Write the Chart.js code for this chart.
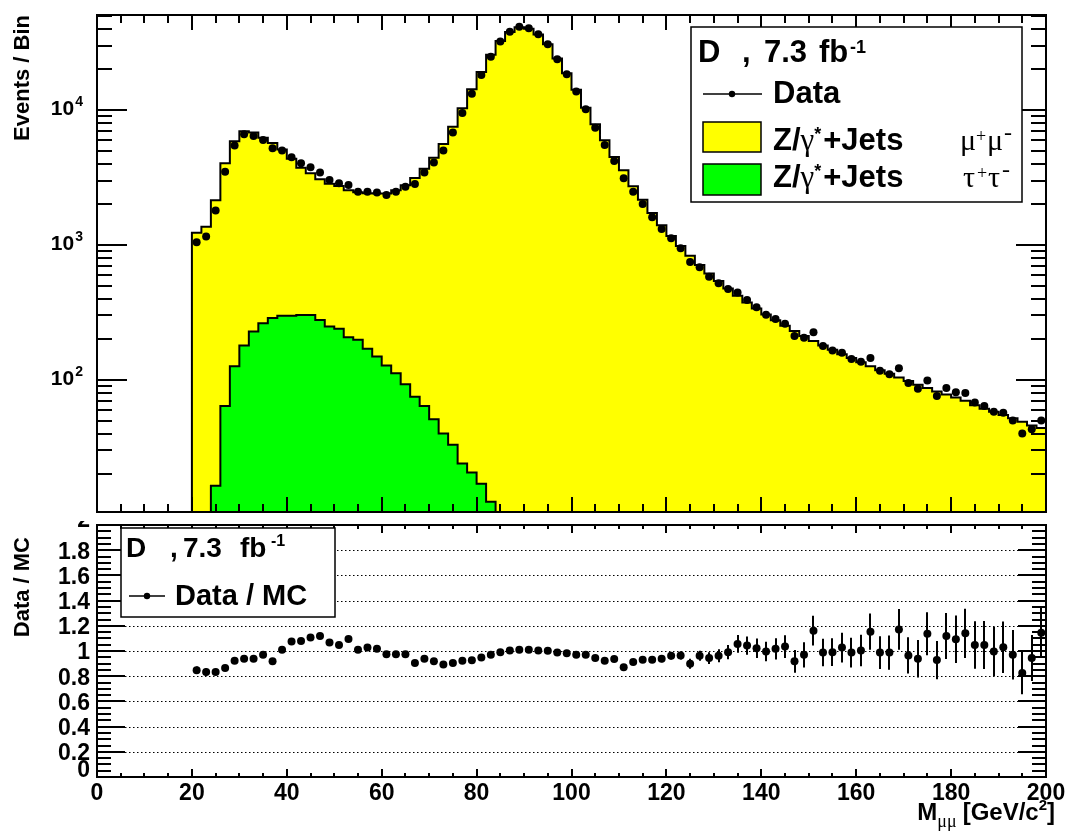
<!DOCTYPE html>
<html><head><meta charset="utf-8">
<script src="https://cdn.jsdelivr.net/npm/chart.js@4/dist/chart.umd.min.js"></script>
<style>
html,body{margin:0;padding:0;background:#fff;}
#wrap{position:relative;width:1070px;height:838px;overflow:hidden;background:#fff;}
canvas{position:absolute;left:0;}
#topPad{top:0;}
#botPad{top:521px;}
</style></head><body>
<div id="wrap"><canvas id="topPad" width="1070" height="517"></canvas><canvas id="botPad" width="1070" height="317"></canvas></div>
<script>
// ---------------- data ----------------
const massBinCenters = [21,23,25,27,29,31,33,35,37,39,41,43,45,47,49,51,53,55,57,59,61,63,65,67,69,71,73,75,77,79,81,83,85,87,89,91,93,95,97,99,101,103,105,107,109,111,113,115,117,119,121,123,125,127,129,131,133,135,137,139,141,143,145,147,149,151,153,155,157,159,161,163,165,167,169,171,173,175,177,179,181,183,185,187,189,191,193,195,197,199];
const binHalfWidth = 1;

const dataEvents = [1047,1153,1795,3490,5440,6610,6410,5990,5200,5000,
 4470,4030,3760,3435,3030,2860,2780,2480,2480,2440,
 2345,2480,2700,2830,3435,4070,5000,6790,9500,13200,
 18150,24800,32100,38000,41400,40300,36400,30700,23700,18400,
 13700,10100,7390,5500,4190,3120,2480,2010,1600,1314,
 1122,946,746,683,581,519,471,444,391,345,
 304,282,261,211,205,225,178,165,159,143,
 136,145,117,110,122,95,86,99,76,87,
 81,80,68,64,58,57,50,40,43,50];

// Z/gamma*+jets mu+mu- stacked on tau+tau- (stack top)
const mcStackTotal = [1230,1365,2140,4030,5850,6950,6800,6230,5700,5100,
 4350,3730,3390,3070,2840,2730,2540,2460,2415,2400,
 2405,2540,2770,3130,3660,4430,5600,7500,10300,14250,
 19100,25600,32400,37850,41000,39950,36250,30700,24000,18700,
 14120,10400,7830,5960,4480,3580,2720,2160,1720,1400,
 1166,980,830,710,615,540,475,420,375,338,
 305,277,252,230,211,194,180,167,155,145,
 135,126,118,111,104,98,92,87,82,78,
 74,70,65,61,58,55,52,49,46,44];

const tauTauMC = [0,0,16.4,64,126,180,228,263,287,299,
 298,303,303,278,249,239,207,198,170,149,
 128,112,93,75,64,51,40,33,24,20.6,
 17,12.5,0,0,0,0,0,0,0,0,
 0,0,0,0,0,0,0,0,0,0,
 0,0,0,0,0,0,0,0,0,0,
 0,0,0,0,0,0,0,0,0,0,
 0,0,0,0,0,0,0,0,0,0,
 0,0,0,0,0,0,0,0,0,0];

const dataOverMC = [0.847,0.834,0.834,0.865,0.923,0.939,0.939,0.970,0.918,1.009,
 1.075,1.080,1.108,1.119,1.067,1.048,1.095,1.009,1.027,1.017,
 0.975,0.975,0.975,0.905,0.939,0.918,0.892,0.905,0.923,0.926,
 0.949,0.970,0.991,1.004,1.009,1.009,1.004,1.001,0.988,0.983,
 0.970,0.970,0.944,0.923,0.936,0.871,0.912,0.931,0.931,0.939,
 0.962,0.965,0.899,0.962,0.944,0.962,0.991,1.056,1.043,1.022,
 0.996,1.017,1.035,0.918,0.970,1.161,0.988,0.991,1.027,0.988,
 1.004,1.153,0.988,0.988,1.171,0.965,0.939,1.137,0.928,1.119,
 1.093,1.140,1.048,1.048,0.996,1.030,0.970,0.826,0.944,1.145];

const dataOverMCErr = [0.03,0.03,0.025,0.018,0.015,0.013,0.013,0.014,0.015,0.015,
 0.016,0.017,0.018,0.018,0.019,0.02,0.02,0.021,0.021,0.021,
 0.021,0.021,0.02,0.02,0.018,0.016,0.014,0.012,0.01,0.009,
 0.008,0.007,0.006,0.005,0.005,0.005,0.005,0.006,0.007,0.008,
 0.009,0.01,0.012,0.014,0.016,0.018,0.021,0.023,0.026,0.028,
 0.03,0.033,0.04,0.04,0.047,0.052,0.057,0.07,0.073,0.078,
 0.078,0.084,0.09,0.09,0.1,0.118,0.11,0.11,0.118,0.118,
 0.125,0.144,0.13,0.136,0.162,0.144,0.149,0.17,0.152,0.183,
 0.188,0.196,0.188,0.19,0.196,0.204,0.196,0.17,0.183,0.196];

// tick labels
const xTickValues = [0,20,40,60,80,100,120,140,160,180,200];
const xTickLabels = ['0','20','40','60','80','100','120','140','160','180','200'];
const logTickValues = [100,1000,10000];
const logTickExponents = ['2','3','4'];
const ratioTickValues = [0,0.2,0.4,0.6,0.8,1,1.2,1.4,1.6,1.8,2];
const ratioTickLabels = ['0','0.2','0.4','0.6','0.8','1','1.2','1.4','1.6','1.8','2'];

// ---------------- helpers ----------------
const X_RANGE = [0, 200];
const LOG_Y_RANGE = [10.5, 50500];
const RATIO_Y_RANGE = [0, 2];
const B = s => `bold ${s}px "Liberation Sans", Arial, Helvetica, sans-serif`;
const SERIF = s => `${s}px "Liberation Serif", "Times New Roman", serif`;
const YELLOW = '#ffff00', GREEN = '#00ff00';

function histPoints(values, base) {
  const pts = []; let on = false, hi = null, last = null;
  for (let i = 0; i < massBinCenters.length; i++) {
    const v = values[i];
    if (!(v > 0)) {
      if (on) { pts.push({x: hi, y: last}); pts.push({x: hi, y: base}); on = false; }
      continue;
    }
    const lo = massBinCenters[i] - binHalfWidth;
    if (!on) { pts.push({x: lo, y: base}); on = true; }
    pts.push({x: lo, y: v});
    hi = massBinCenters[i] + binHalfWidth; last = v;
  }
  if (on) { pts.push({x: hi, y: last}); pts.push({x: hi, y: base}); }
  return pts;
}
const xy = (vals) => massBinCenters.map((c, i) => ({x: c, y: vals[i]}));

function drawPieces(ctx, pieces, baseY) {
  ctx.textAlign = 'left'; ctx.textBaseline = 'alphabetic';
  for (const p of pieces) { ctx.font = p.f; ctx.fillText(p.t, p.x, baseY + (p.dy || 0)); }
}
function drawRich(ctx, parts, x, y) {
  ctx.textAlign = 'left'; ctx.textBaseline = 'alphabetic';
  for (const p of parts) { ctx.font = p.f; ctx.fillText(p.t, x, y + (p.dy || 0)); x += ctx.measureText(p.t).width + (p.gap || 0); }
  return x;
}
function richWidth(ctx, parts) {
  let w = 0; for (const p of parts) { ctx.font = p.f; w += ctx.measureText(p.t).width + (p.gap || 0); } return w;
}

function xTicks(ctx, xs, a, majLen, minLen) {
  for (let v = X_RANGE[0]; v <= X_RANGE[1]; v += 5) {
    const px = Math.round(xs.getPixelForValue(v));
    const L = (v % 20 === 0) ? majLen : minLen;
    ctx.moveTo(px, a.bottom); ctx.lineTo(px, a.bottom - L);
    ctx.moveTo(px, a.top); ctx.lineTo(px, a.top + L);
  }
}

// ---------------- top pad decoration ----------------
const topDecor = {
  id: 'topDecor',
  afterDraw(chart) {
    const {ctx, chartArea: a} = chart; const xs = chart.scales.x, ys = chart.scales.y;
    ctx.save();
    ctx.strokeStyle = '#000'; ctx.lineWidth = 2; ctx.beginPath();
    xTicks(ctx, xs, a, 15, 8);
    for (let d = 1; d <= 4; d++) for (let m = 1; m <= 9; m++) {
      const v = m * Math.pow(10, d);
      if (v < LOG_Y_RANGE[0] || v > LOG_Y_RANGE[1]) continue;
      const py = Math.round(ys.getPixelForValue(v));
      const L = m === 1 ? 30 : 15;
      ctx.moveTo(a.left, py); ctx.lineTo(a.left + L, py);
      ctx.moveTo(a.right, py); ctx.lineTo(a.right - L, py);
    }
    ctx.stroke();
    ctx.strokeRect(a.left, a.top, a.right - a.left, a.bottom - a.top);

    // y tick labels 10^n
    ctx.fillStyle = '#000';
    logTickValues.forEach((v, i) => {
      const py = ys.getPixelForValue(v);
      const parts = [{t: '10', f: B(21), gap: 1}, {t: logTickExponents[i], f: B(14), dy: -9}];
      const w = richWidth(ctx, parts);
      drawRich(ctx, parts, 83 - w, py + 5);
    });
    // y title
    ctx.save(); ctx.translate(23, 15); ctx.rotate(-Math.PI / 2);
    ctx.textAlign = 'right'; ctx.textBaseline = 'middle'; ctx.font = B(22);
    ctx.fillText('Events / Bin', 0, 0); ctx.restore();

    // legend
    ctx.lineWidth = 1.5;
    ctx.fillStyle = '#fff'; ctx.fillRect(691, 27, 331, 175);
    ctx.strokeRect(691, 27, 331, 175);
    ctx.fillStyle = '#000';
    drawPieces(ctx, [{t: 'D', f: B(31), x: 698}, {t: ',', f: B(31), x: 742}, {t: '7.3', f: B(31), x: 764}, {t: 'fb', f: B(31), x: 819}, {t: '-1', f: B(18), x: 850, dy: -9}], 62);
    ctx.beginPath(); ctx.moveTo(703, 94); ctx.lineTo(762, 94); ctx.stroke();
    ctx.beginPath(); ctx.arc(732, 94, 3.2, 0, Math.PI * 2); ctx.fill();
    drawPieces(ctx, [{t: 'Data', f: B(31), x: 773}], 103);
    const rows = [{y: 122, h: 30, base: 150, col: YELLOW, s: ['\u03bc', '\u03bc'], sx: [960, 987], px: [976, 1004]},
                  {y: 164, h: 31, base: 187, col: GREEN, s: ['\u03c4', '\u03c4'], sx: [963, 988], px: [977, 1002]}];
    for (const r of rows) {
      ctx.fillStyle = r.col; ctx.fillRect(703, r.y, 58, r.h); ctx.strokeRect(703, r.y, 58, r.h);
      ctx.fillStyle = '#000';
      drawRich(ctx, [{t: 'Z/', f: B(31)}, {t: '\u03b3', f: SERIF(31)}, {t: '*', f: B(18), dy: -10, gap: 2}, {t: '+Jets', f: B(31)}], 773, r.base);
      drawPieces(ctx, [
        {t: r.s[0], f: SERIF(30), x: r.sx[0]}, {t: '+', f: SERIF(18), x: r.px[0], dy: -8},
        {t: r.s[1], f: SERIF(30), x: r.sx[1]}, {t: '-', f: SERIF(24), x: r.px[1], dy: -10}], r.base);
    }
    ctx.restore();
  }
};

// ---------------- bottom pad decoration ----------------
const botDecor = {
  id: 'botDecor',
  beforeDatasetsDraw(chart) {
    const {ctx, chartArea: a} = chart; const xs = chart.scales.x, ys = chart.scales.y;
    ctx.save();
    ctx.strokeStyle = '#000'; ctx.lineWidth = 1; ctx.setLineDash([1.5, 2.5]);
    ctx.beginPath();
    for (let k = 1; k < ratioTickValues.length - 1; k++) {
      const py = Math.round(ys.getPixelForValue(ratioTickValues[k])) + 0.5;
      ctx.moveTo(a.left, py); ctx.lineTo(a.right, py);
    }
    ctx.stroke();
    ctx.setLineDash([]); ctx.lineWidth = 2; ctx.beginPath();
    massBinCenters.forEach((c, i) => {
      const px = Math.round(xs.getPixelForValue(c));
      ctx.moveTo(px, ys.getPixelForValue(dataOverMC[i] - dataOverMCErr[i]));
      ctx.lineTo(px, ys.getPixelForValue(dataOverMC[i] + dataOverMCErr[i]));
    });
    ctx.stroke();
    ctx.restore();
  },
  afterDraw(chart) {
    const {ctx, chartArea: a} = chart; const xs = chart.scales.x, ys = chart.scales.y;
    ctx.save();
    ctx.strokeStyle = '#000'; ctx.lineWidth = 2; ctx.beginPath();
    xTicks(ctx, xs, a, 8, 4);
    for (let k = 0; k <= 40; k++) {
      const v = k * 0.05;
      const py = Math.round(ys.getPixelForValue(v));
      const L = (k % 4 === 0) ? 28 : 14;
      ctx.moveTo(a.left, py); ctx.lineTo(a.left + L, py);
      ctx.moveTo(a.right, py); ctx.lineTo(a.right - L, py);
    }
    ctx.stroke();
    ctx.strokeRect(a.left, a.top, a.right - a.left, a.bottom - a.top);

    ctx.fillStyle = '#000';
    // y labels
    ctx.font = B(23); ctx.textAlign = 'right'; ctx.textBaseline = 'middle';
    ratioTickValues.forEach((v, i) => {
      const shift = v === RATIO_Y_RANGE[0] ? -6 : (v === RATIO_Y_RANGE[1] ? -4 : 2);
      ctx.fillText(ratioTickLabels[i], 90, ys.getPixelForValue(v) + shift);
    });
    // x labels
    ctx.textAlign = 'center'; ctx.textBaseline = 'alphabetic';
    xTickValues.forEach((v, i) => ctx.fillText(xTickLabels[i], xs.getPixelForValue(v), 279));
    // y title
    ctx.save(); ctx.translate(23, 16); ctx.rotate(-Math.PI / 2);
    ctx.textAlign = 'right'; ctx.textBaseline = 'middle'; ctx.font = B(22);
    ctx.fillText('Data / MC', 0, 0); ctx.restore();
    // x title
    const tparts = [{t: 'M', f: B(24)}, {t: '\u03bc\u03bc', f: SERIF(18), dy: 7, gap: 6}, {t: '[GeV/c', f: B(24)}, {t: '2', f: B(15), dy: -10}, {t: ']', f: B(24)}];
    drawRich(ctx, tparts, 1055 - richWidth(ctx, tparts), 299);
    // legend
    ctx.lineWidth = 1.5;
    ctx.fillStyle = '#fff'; ctx.fillRect(121, 7, 214, 89); ctx.strokeRect(121, 7, 214, 89);
    ctx.fillStyle = '#000';
    drawPieces(ctx, [{t: 'D', f: B(28), x: 126}, {t: ',', f: B(28), x: 170}, {t: '7.3', f: B(28), x: 183}, {t: 'fb', f: B(28), x: 240}, {t: '-1', f: B(16), x: 271, dy: -11}], 36);
    ctx.beginPath(); ctx.moveTo(129, 75); ctx.lineTo(165, 75); ctx.stroke();
    ctx.beginPath(); ctx.arc(147, 75, 3.2, 0, Math.PI * 2); ctx.fill();
    drawPieces(ctx, [{t: 'Data / MC', f: B(29), x: 175}], 84);
    ctx.restore();
  }
};

const common = {
  responsive: false, animation: false, devicePixelRatio: 1, events: [],
  plugins: {legend: {display: false}, tooltip: {enabled: false}}
};

new Chart(document.getElementById('topPad'), {
  type: 'scatter',
  data: {datasets: [
    {type: 'scatter', label: 'Data', data: xy(dataEvents), pointRadius: 4, pointBorderWidth: 0, pointBackgroundColor: '#000', order: 0},
    {type: 'line', label: 'Z/gamma*+Jets tautau', data: histPoints(tauTauMC, LOG_Y_RANGE[0]), stepped: true, borderColor: '#000', borderWidth: 2, backgroundColor: GREEN, fill: 'start', pointRadius: 0, tension: 0, order: 1},
    {type: 'line', label: 'Z/gamma*+Jets mumu', data: histPoints(mcStackTotal, LOG_Y_RANGE[0]), stepped: true, borderColor: '#000', borderWidth: 2, backgroundColor: YELLOW, fill: 'start', pointRadius: 0, tension: 0, order: 2}
  ]},
  options: Object.assign({}, common, {
    layout: {padding: {left: 97, right: 24, top: 15, bottom: 5}},
    scales: {
      x: {type: 'linear', min: X_RANGE[0], max: X_RANGE[1], display: false},
      y: {type: 'logarithmic', min: LOG_Y_RANGE[0], max: LOG_Y_RANGE[1], display: false}
    }
  }),
  plugins: [topDecor]
});

new Chart(document.getElementById('botPad'), {
  type: 'scatter',
  data: {datasets: [
    {type: 'scatter', label: 'Data / MC', data: xy(dataOverMC), pointRadius: 4, pointBorderWidth: 0, pointBackgroundColor: '#000'}
  ]},
  options: Object.assign({}, common, {
    layout: {padding: {left: 97, right: 24, top: 1, bottom: 61}},
    scales: {
      x: {type: 'linear', min: X_RANGE[0], max: X_RANGE[1], display: false},
      y: {type: 'linear', min: RATIO_Y_RANGE[0], max: RATIO_Y_RANGE[1], display: false}
    }
  }),
  plugins: [botDecor]
});
</script>
</body></html>
